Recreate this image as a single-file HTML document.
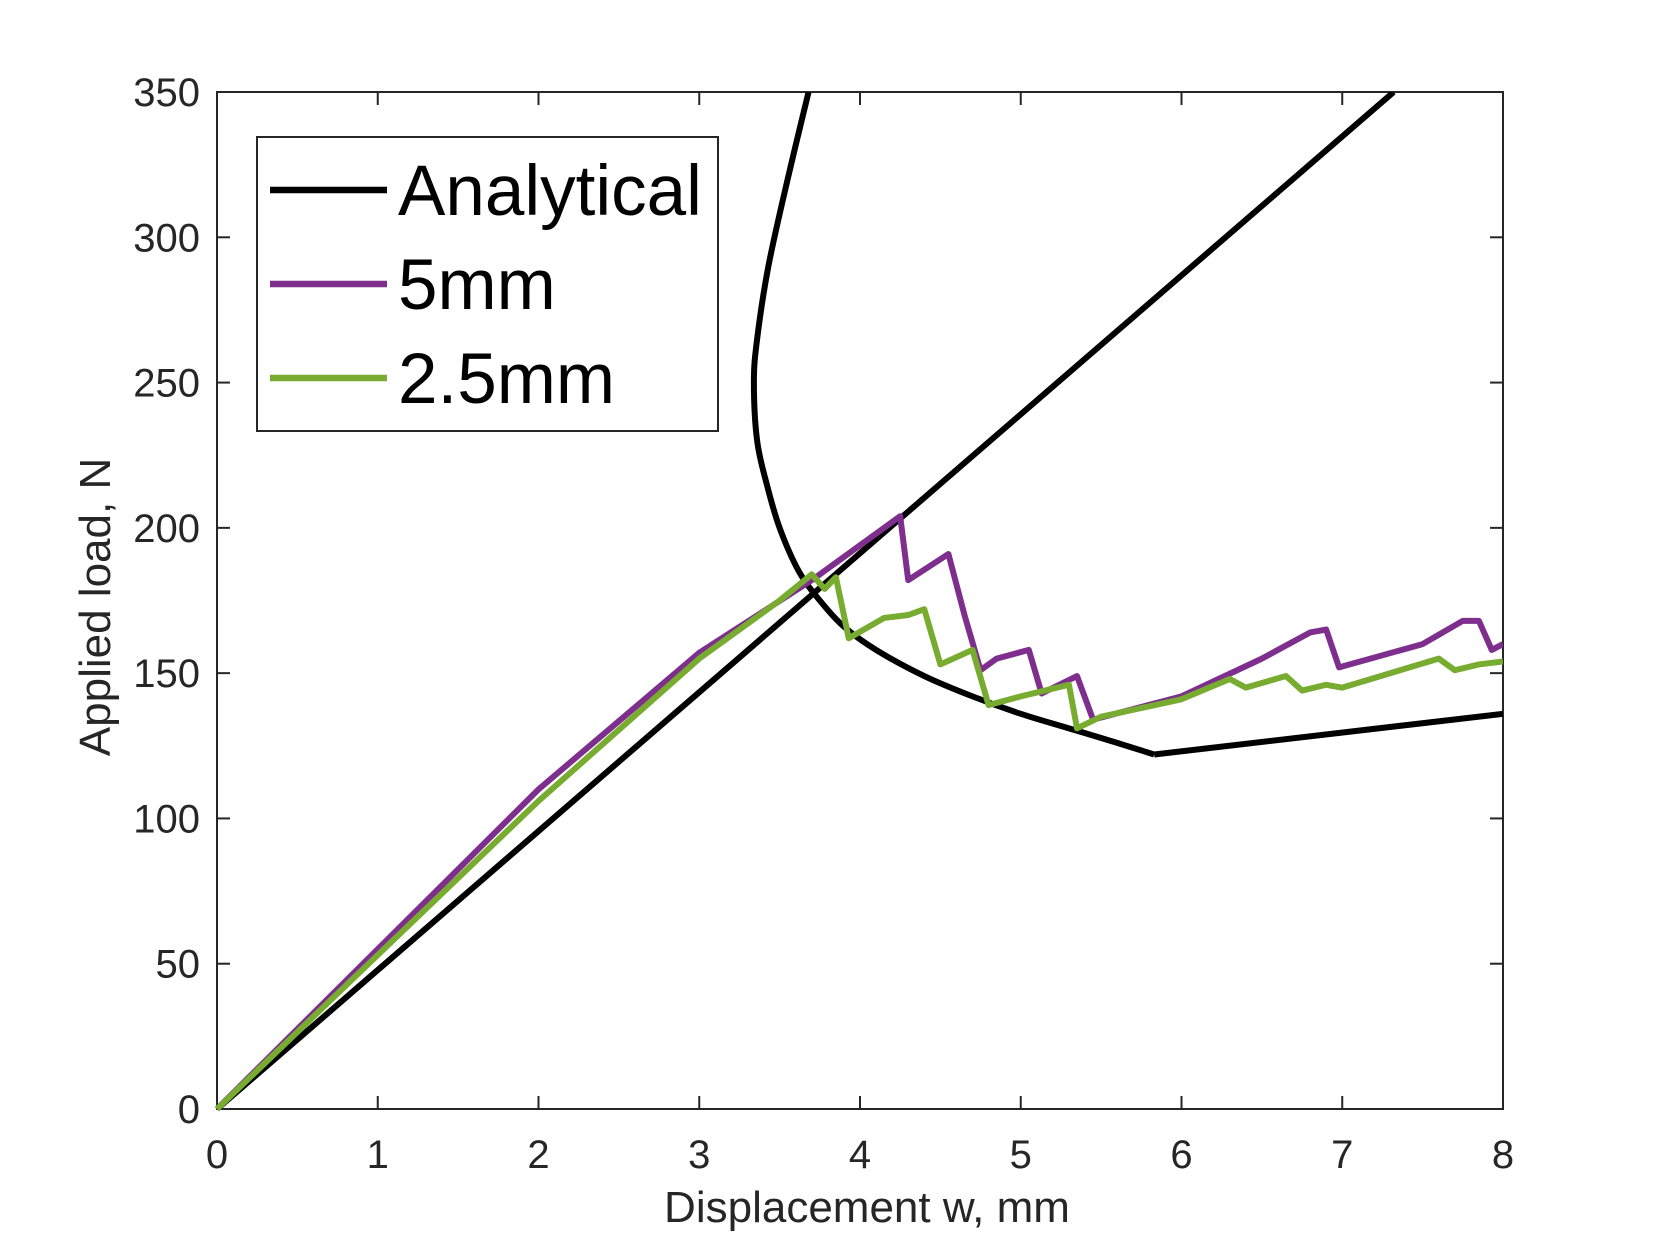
<!DOCTYPE html>
<html><head><meta charset="utf-8"><style>body{margin:0;background:#fff}svg{display:block;font-family:"Liberation Sans",sans-serif}</style></head>
<body>
<svg id="c" width="1661" height="1246"></svg>
<script>
const xTicks=[0,1,2,3,4,5,6,7,8];
const yTicks=[0,50,100,150,200,250,300,350];
const analyticalLineX=[0,7.32];
const analyticalLineY=[0,350];
const analyticalCurveX=[3.68,3.55,3.43,3.36,3.34,3.36,3.42,3.5,3.62,3.75,3.9,4.1,4.4,4.7,5.0,5.3,5.6,5.83];
const analyticalCurveY=[350,320,290,265,250,230,215,200,185,175,166,158,149,142,136,131,126,122];
const analyticalTailX=[5.83,8];
const analyticalTailY=[122,136];
const mm5X=[0,1,2,3,3.7,4.25,4.3,4.55,4.65,4.75,4.85,5.05,5.13,5.35,5.45,6,6.5,6.8,6.9,6.98,7.5,7.75,7.85,7.93,8];
const mm5Y=[0,55,110,157,182,204,182,191,170,151,155,158,143,149,134,142,155,164,165,152,160,168,168,158,160];
const mm25X=[0,1,2,3,3.5,3.7,3.78,3.85,3.93,4.15,4.3,4.4,4.5,4.7,4.8,5,5.15,5.3,5.35,5.5,6,6.3,6.4,6.65,6.75,6.9,7,7.6,7.7,7.85,8];
const mm25Y=[0,53,106,155,175,184,179,183,162,169,170,172,153,158,139,142,144,146,131,135,141,148,145,149,144,146,145,155,151,153,154];
const NS="http://www.w3.org/2000/svg",svg=document.getElementById('c');
const X0=217,X1=1503,Y0=1109,Y1=92;
const sx=v=>X0+(X1-X0)*v/8, sy=v=>Y0-(Y0-Y1)*v/350;
function mk(t,a,p){const e=document.createElementNS(NS,t);for(const k in a)e.setAttribute(k,a[k]);(p||svg).appendChild(e);return e;}
const clip=mk('clipPath',{id:'cp'});mk('rect',{x:X0-3,y:Y1,width:X1-X0+3,height:Y0-Y1+3},clip);
const ax=mk('rect',{x:X0,y:Y1,width:X1-X0,height:Y0-Y1,fill:'none',stroke:'#262626','stroke-width':2});


xTicks.forEach(v=>{const x=sx(v);
 mk('line',{x1:x,x2:x,y1:Y0,y2:Y0-13,stroke:'#262626','stroke-width':2});
 mk('line',{x1:x,x2:x,y1:Y1,y2:Y1+13,stroke:'#262626','stroke-width':2});
 const t=mk('text',{x:x,y:Y0+59,'text-anchor':'middle','font-size':40,fill:'#262626'});t.textContent=v;
 
 });
yTicks.forEach(v=>{const y=sy(v);
 mk('line',{x1:X0,x2:X0+13,y1:y,y2:y,stroke:'#262626','stroke-width':2});
 mk('line',{x1:X1,x2:X1-13,y1:y,y2:y,stroke:'#262626','stroke-width':2});
 const t=mk('text',{x:X0-17,y:y+14,'text-anchor':'end','font-size':40,fill:'#262626'});t.textContent=v;
 
 });
function line(xs,ys,col,name,smooth){
 const P=xs.map((v,i)=>[sx(v),sy(ys[i])]);let d='M'+P[0][0]+','+P[0][1];
 for(let i=1;i<P.length;i++){
  if(smooth){const p0=P[Math.max(0,i-2)],p1=P[i-1],p2=P[i],p3=P[Math.min(P.length-1,i+1)];
   d+='C'+(p1[0]+(p2[0]-p0[0])/6)+','+(p1[1]+(p2[1]-p0[1])/6)+' '+(p2[0]-(p3[0]-p1[0])/6)+','+(p2[1]-(p3[1]-p1[1])/6)+' '+p2[0]+','+p2[1];}
  else d+='L'+P[i][0]+','+P[i][1];}
 const p=mk('path',{d:d,fill:'none',stroke:col,'stroke-width':6,'stroke-linejoin':'round','clip-path':'url(#cp)'});
 
 }
line(analyticalLineX,analyticalLineY,'#000','analytical-line');
line(analyticalCurveX,analyticalCurveY,'#000','analytical-curve',true);
line(analyticalTailX,analyticalTailY,'#000','analytical-tail');
line(mm5X,mm5Y,'#7e2f8e','series-5mm');
line(mm25X,mm25Y,'#77ac30','series-2-5mm');
const xl=mk('text',{x:867,y:1222,'text-anchor':'middle','font-size':44,fill:'#262626'});xl.textContent='Displacement w, mm';


const yl=mk('text',{x:0,y:0,transform:'translate(110,607) rotate(-90)','text-anchor':'middle','font-size':44,fill:'#262626'});yl.textContent='Applied load, N';


const lg=mk('g',{});


mk('rect',{x:257,y:137,width:461,height:294,fill:'#fff',stroke:'#262626','stroke-width':2},lg);
[['Analytical','#000',190],['5mm','#7e2f8e',284],['2.5mm','#77ac30',378]].forEach(([n,c,y])=>{
 mk('line',{x1:270,x2:387,y1:y,y2:y,stroke:c,'stroke-width':6.5},lg);
 const t=mk('text',{x:398,y:y+25,'font-size':71,fill:'#000'},lg);t.textContent=n;
 
 });
</script>
</body></html>
